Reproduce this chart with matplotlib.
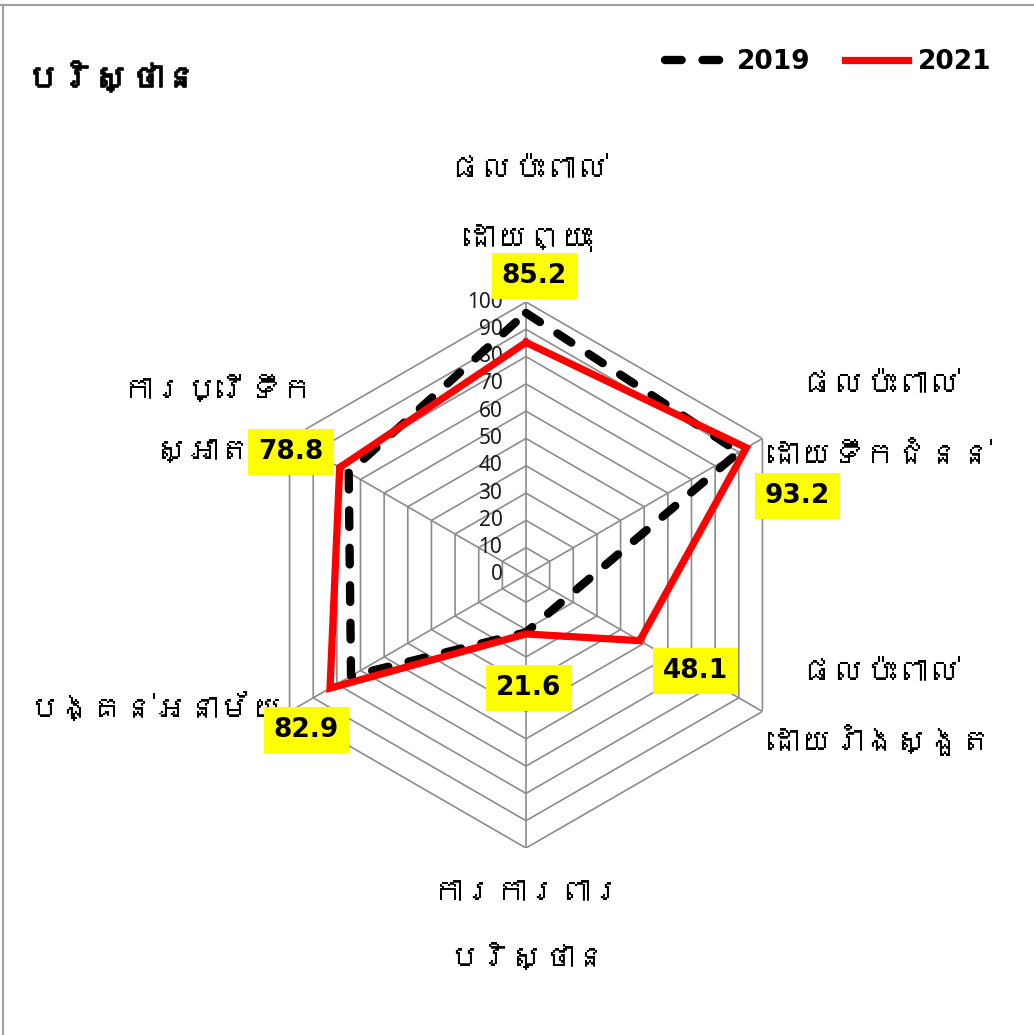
import numpy as np
import matplotlib
matplotlib.use("Agg")
import matplotlib.pyplot as plt
from matplotlib import font_manager
from matplotlib.ft2font import FT2Font
from matplotlib.lines import Line2D
import matplotlib.patheffects as pe

# ---------------- data ----------------
categories = ["ផលប៉ះពាល់\nដោយព្យុះ",
              "ផលប៉ះពាល់\nដោយទឹកជំនន់",
              "ផលប៉ះពាល់\nដោយរាំងស្ងួត",
              "ការការពារ\nបរិស្ថាន",
              "បង្គន់អនាម័យ",
              "ការប្រើទឹក\nស្អាត"]
values_2019 = [96, 90, 17, 21, 74, 75]
values_2021 = [85.2, 93.2, 48.1, 21.6, 82.9, 78.8]
series_names = ["2019", "2021"]
title_text = "បរិស្ថាន"
r_ticks = [0, 10, 20, 30, 40, 50, 60, 70, 80, 90, 100]

# ---------------- fonts ----------------
def find_khmer_fonts():
    fams = []
    for f in font_manager.fontManager.ttflist:
        try:
            cm = FT2Font(f.fname).get_charmap()
        except Exception:
            continue
        if 0x1794 in cm and f.name not in fams:
            fams.append(f.name)
    return fams

khmer_fams = find_khmer_fonts()
label_family = khmer_fams + ["DejaVu Sans"]
installed = {f.name for f in font_manager.fontManager.ttflist}
num_family = [f for f in ["Liberation Sans Narrow", "DejaVu Sans"] if f in installed] or ["DejaVu Sans"]
tick_family = [f for f in ["Noto Sans", "DejaVu Sans"] if f in installed] or ["DejaVu Sans"]

fig = plt.figure(figsize=(10.34, 10.35), dpi=100)
W, H = 1034, 1035
cx, cy, R = 526, 575, 273
ax = fig.add_axes([(cx - R) / W, (H - cy - R) / H, 2 * R / W, 2 * R / H],
                  projection="polar")
ax.set_theta_zero_location("N")
ax.set_theta_direction(-1)
ax.set_ylim(0, 100)
ax.grid(False)
ax.spines["polar"].set_visible(False)
ax.set_xticks([])
ax.set_yticks([])
ax.patch.set_alpha(0)

n = len(categories)
theta = np.arange(n) * 2 * np.pi / n
theta_closed = np.append(theta, theta[0])

grid_color = "#8c8c8c"
for rv in r_ticks[1:]:
    ax.plot(theta_closed, [rv] * (n + 1), color=grid_color, lw=1.2, zorder=1)
for t in theta:
    ax.plot([t, t], [0, 100], color=grid_color, lw=1.2, zorder=1)

for rv in r_ticks:
    ax.annotate(str(rv), xy=(0, rv), xytext=(-17, 0), textcoords="offset points",
                ha="right", va="center", fontsize=15, family=tick_family,
                color="#1a1a1a", zorder=2)

v19 = np.append(values_2019, values_2019[0])
v21 = np.append(values_2021, values_2021[0])
ax.plot(theta_closed, v19, color="black", lw=6, linestyle=(0, (2.0, 2.5)),
        dash_capstyle="round", solid_joinstyle="miter", zorder=3, label=series_names[0])
ax.plot(theta_closed, v21, color="#ff0000", lw=5.2, solid_joinstyle="miter",
        zorder=4, label=series_names[1])

# data labels (2021) in yellow boxes
label_offsets = [(6, 48), (37, -35), (40, -22), (2, -39), (-17, -30), (-35, 11)]
for t, v, off in zip(theta, values_2021, label_offsets):
    ax.annotate(f"{v:.1f}", xy=(t, v), xytext=off, textcoords="offset points",
                ha="center", va="center", fontsize=19, fontweight="bold",
                family=num_family, color="black", zorder=6,
                bbox=dict(boxstyle="square,pad=0.38", fc="#ffff00", ec="none"))

# category labels, one text per line, placed relative to the outer ring vertices
cat_line_offsets = [
    [(1.5, 95), (1.5, 46)],
    [(85, 38.5), (85, -12)],
    [(85, 27.7), (85, -20.5)],
    [(0.5, -32.4), (0.5, -79)],
    [(-5, 2.5)],
    [(-52, 35), (-62, -9.7)],
]
cat_ha = ["center", "center", "center", "center", "right", "center"]
for t, lab, offs, ha in zip(theta, categories, cat_line_offsets, cat_ha):
    for line, off in zip(lab.split("\n"), offs):
        ax.annotate(line, xy=(t, 100), xytext=off, textcoords="offset points",
                    ha=ha, va="center", fontsize=23,
                    family=label_family, color="black",
                    annotation_clip=False, zorder=5)

# title
fig.text(25 / W, 1 - 78 / H, title_text, ha="left", va="center", fontsize=25,
         fontweight="bold", family=label_family,
         path_effects=[pe.withStroke(linewidth=1.2, foreground="black")])

# legend
leg = fig.legend(handles=ax.get_lines()[-2:], labels=series_names,
                 loc="center right", bbox_to_anchor=(1015 / W, 1 - 62 / H),
                 ncol=2, frameon=False, handlelength=2.4, columnspacing=1.3,
                 handletextpad=0.35, prop=dict(family=num_family, weight="bold", size=19))

# frame lines
fig.add_artist(Line2D([0, 1], [1 - 5 / H, 1 - 5 / H], transform=fig.transFigure,
                      color="#a0a0a0", lw=1.5))
fig.add_artist(Line2D([3 / W, 3 / W], [0, 1 - 5 / H], transform=fig.transFigure,
                      color="#a0a0a0", lw=1.5))

fig.savefig("out.png", dpi=100, facecolor="white")
